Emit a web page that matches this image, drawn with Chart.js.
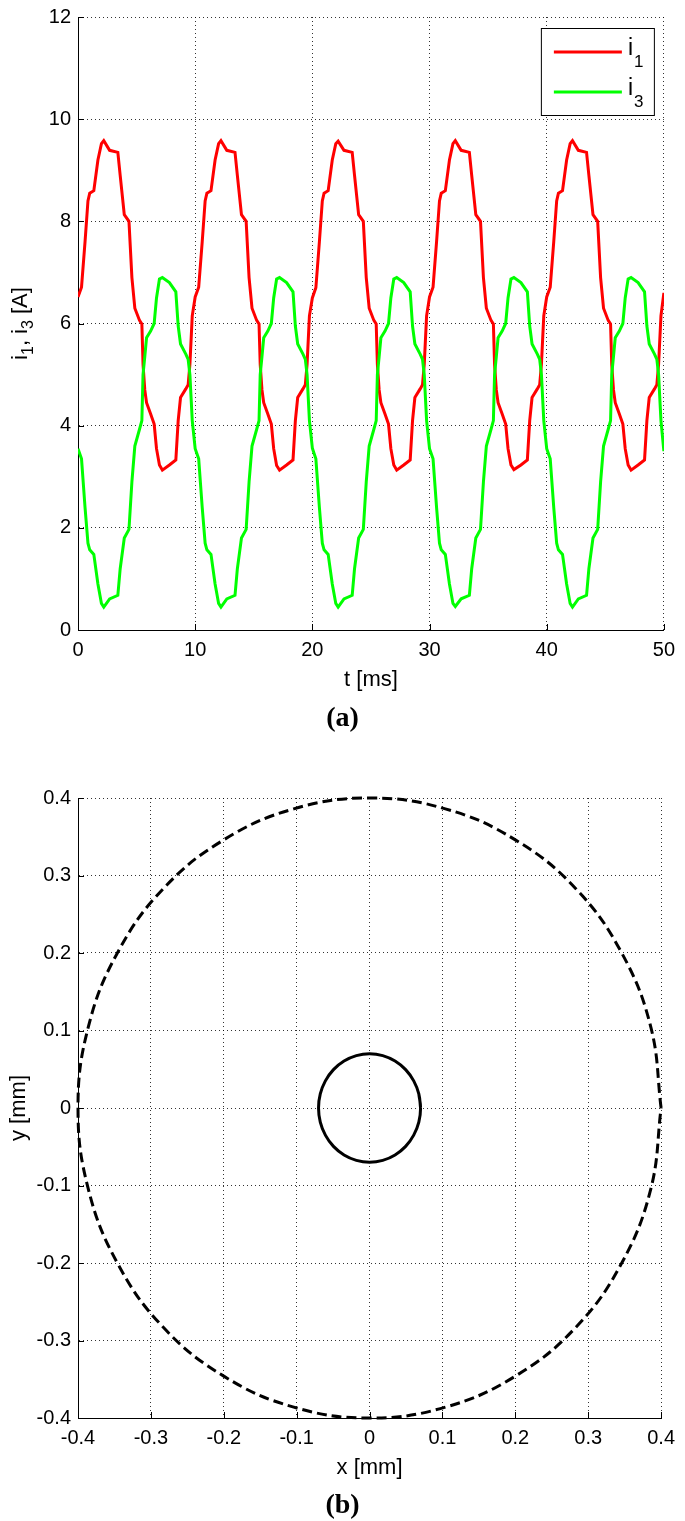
<!DOCTYPE html>
<html>
<head>
<meta charset="utf-8">
<script src="https://cdn.jsdelivr.net/npm/chart.js@4.4.1/dist/chart.umd.min.js"></script>
<style>
  body { margin: 0; background: #fff; width: 685px; height: 1521px; overflow: hidden; position: relative; }
  canvas { position: absolute; left: 0; }
  #currents { top: 0; }
  #orbit { top: 750px; }
</style>
</head>
<body>
<canvas id="currents" width="685" height="750"></canvas>
<canvas id="orbit" width="685" height="771"></canvas>
<script>
// (a) phase currents, t in ms
var tMs = [
  0, 0.3, 0.6, 0.85, 1.0, 1.35, 1.7, 2.0, 2.2, 2.7, 3.4, 3.6, 3.95, 4.35, 4.6, 4.85, 5.25, 5.45, 5.55, 5.7, 5.85, 6.2, 6.5, 6.7, 6.95, 7.2, 7.8, 8.35, 8.55, 8.75, 9.2, 9.4, 9.55, 9.75,
  10, 10.3, 10.6, 10.85, 11.0, 11.35, 11.7, 12.0, 12.2, 12.7, 13.4, 13.6, 13.95, 14.35, 14.6, 14.85, 15.25, 15.45, 15.55, 15.7, 15.85, 16.2, 16.5, 16.7, 16.95, 17.2, 17.8, 18.35, 18.55, 18.75, 19.2, 19.4, 19.55, 19.75,
  20, 20.3, 20.6, 20.85, 21.0, 21.35, 21.7, 22.0, 22.2, 22.7, 23.4, 23.6, 23.95, 24.35, 24.6, 24.85, 25.25, 25.45, 25.55, 25.7, 25.85, 26.2, 26.5, 26.7, 26.95, 27.2, 27.8, 28.35, 28.55, 28.75, 29.2, 29.4, 29.55, 29.75,
  30, 30.3, 30.6, 30.85, 31.0, 31.35, 31.7, 32.0, 32.2, 32.7, 33.4, 33.6, 33.95, 34.35, 34.6, 34.85, 35.25, 35.45, 35.55, 35.7, 35.85, 36.2, 36.5, 36.7, 36.95, 37.2, 37.8, 38.35, 38.55, 38.75, 39.2, 39.4, 39.55, 39.75,
  40, 40.3, 40.6, 40.85, 41.0, 41.35, 41.7, 42.0, 42.2, 42.7, 43.4, 43.6, 43.95, 44.35, 44.6, 44.85, 45.25, 45.45, 45.55, 45.7, 45.85, 46.2, 46.5, 46.7, 46.95, 47.2, 47.8, 48.35, 48.55, 48.75, 49.2, 49.4, 49.55, 49.75,
  50
];
var i1 = [
  6.52, 6.71, 7.6, 8.4, 8.55, 8.6, 9.2, 9.52, 9.58, 9.39, 9.35, 8.9, 8.13, 8.0, 6.9, 6.3, 6.06, 5.99, 5.2, 4.7, 4.45, 4.23, 4.03, 3.55, 3.23, 3.13, 3.23, 3.33, 4.1, 4.55, 4.72, 4.8, 5.2, 6.15,
  6.52, 6.71, 7.6, 8.4, 8.55, 8.6, 9.2, 9.52, 9.58, 9.39, 9.35, 8.9, 8.13, 8.0, 6.9, 6.3, 6.06, 5.99, 5.2, 4.7, 4.45, 4.23, 4.03, 3.55, 3.22, 3.13, 3.23, 3.33, 4.1, 4.55, 4.72, 4.8, 5.2, 6.15,
  6.5, 6.7, 7.6, 8.4, 8.55, 8.6, 9.2, 9.52, 9.57, 9.39, 9.35, 8.9, 8.13, 8.0, 6.9, 6.3, 6.06, 5.99, 5.2, 4.7, 4.45, 4.23, 4.03, 3.55, 3.23, 3.13, 3.23, 3.33, 4.1, 4.55, 4.72, 4.8, 5.2, 6.15,
  6.52, 6.71, 7.6, 8.4, 8.55, 8.6, 9.2, 9.52, 9.58, 9.39, 9.35, 8.9, 8.13, 8.0, 6.9, 6.3, 6.06, 5.99, 5.2, 4.7, 4.45, 4.23, 4.03, 3.55, 3.23, 3.14, 3.23, 3.33, 4.1, 4.55, 4.72, 4.8, 5.2, 6.15,
  6.52, 6.71, 7.6, 8.4, 8.55, 8.6, 9.2, 9.52, 9.58, 9.39, 9.35, 8.9, 8.13, 8.0, 6.9, 6.3, 6.06, 5.99, 5.2, 4.7, 4.45, 4.23, 4.03, 3.55, 3.23, 3.13, 3.23, 3.33, 4.1, 4.55, 4.72, 4.8, 5.2, 6.15,
  6.6
];
var i3 = [
  3.55, 3.35, 2.4, 1.7, 1.57, 1.48, 0.9, 0.52, 0.45, 0.61, 0.68, 1.2, 1.8, 1.97, 2.9, 3.6, 3.93, 4.1, 5.0, 5.35, 5.72, 5.85, 6.0, 6.5, 6.87, 6.9, 6.8, 6.62, 5.95, 5.6, 5.4, 5.3, 5.0, 4.1,
  3.55, 3.35, 2.4, 1.7, 1.57, 1.48, 0.9, 0.52, 0.45, 0.61, 0.68, 1.2, 1.8, 1.97, 2.9, 3.6, 3.93, 4.1, 5.0, 5.35, 5.72, 5.85, 6.0, 6.5, 6.87, 6.9, 6.8, 6.62, 5.95, 5.6, 5.4, 5.3, 5.0, 4.1,
  3.56, 3.35, 2.4, 1.7, 1.57, 1.48, 0.9, 0.52, 0.45, 0.61, 0.68, 1.2, 1.8, 1.97, 2.9, 3.6, 3.93, 4.1, 5.0, 5.35, 5.72, 5.85, 6.0, 6.5, 6.87, 6.9, 6.8, 6.62, 5.95, 5.6, 5.4, 5.3, 5.0, 4.1,
  3.55, 3.35, 2.4, 1.7, 1.57, 1.48, 0.9, 0.52, 0.46, 0.61, 0.68, 1.2, 1.8, 1.97, 2.9, 3.6, 3.93, 4.1, 5.0, 5.35, 5.72, 5.85, 6.0, 6.5, 6.87, 6.9, 6.8, 6.62, 5.95, 5.6, 5.4, 5.3, 5.0, 4.1,
  3.55, 3.35, 2.4, 1.7, 1.57, 1.48, 0.9, 0.52, 0.45, 0.61, 0.68, 1.2, 1.8, 1.97, 2.9, 3.6, 3.93, 4.1, 5.0, 5.35, 5.72, 5.85, 6.0, 6.5, 6.87, 6.9, 6.8, 6.62, 5.95, 5.6, 5.4, 5.3, 5.0, 4.1,
  3.5
];
var currentNames = ['i\u2081', 'i\u2083'];
var currentSubs = ['1', '3'];
// y label of (a) as pieces: [text, isSubscript]
var currentAxisLabel = [['i', false], ['1', true], [', i', false], ['3', true], [' [A]', false]];

// (b) rotor orbit, mm
var outerX = [0.4, 0.386, 0.346, 0.283, 0.2, 0.104, 0, -0.104, -0.2, -0.283, -0.346, -0.386, -0.4, -0.386, -0.346, -0.283, -0.2, -0.104, 0, 0.104, 0.2, 0.283, 0.346, 0.386, 0.4];
var outerY = [0, 0.104, 0.2, 0.283, 0.346, 0.386, 0.4, 0.386, 0.346, 0.283, 0.2, 0.104, 0, -0.104, -0.2, -0.283, -0.346, -0.386, -0.4, -0.386, -0.346, -0.283, -0.2, -0.104, 0];
var innerX = [0.07, 0.0676, 0.0606, 0.0495, 0.035, 0.0181, 0, -0.0181, -0.035, -0.0495, -0.0606, -0.0676, -0.07, -0.0676, -0.0606, -0.0495, -0.035, -0.0181, 0, 0.0181, 0.035, 0.0495, 0.0606, 0.0676, 0.07, 0.0676];
var innerY = [0, 0.0181, 0.035, 0.0495, 0.0606, 0.0676, 0.07, 0.0676, 0.0606, 0.0495, 0.035, 0.0181, 0, -0.0181, -0.035, -0.0495, -0.0606, -0.0676, -0.07, -0.0676, -0.0606, -0.0495, -0.035, -0.0181, 0, 0.0181];

var sansFont = 'Arial, "Liberation Sans", Helvetica, sans-serif';
var serifFont = '"Times New Roman", "Liberation Serif", serif';
Chart.defaults.font.family = sansFont;
Chart.defaults.font.size = 20;
Chart.defaults.color = '#000';

function toPoints(xs, ys) {
  return xs.map(function (x, k) { return { x: x, y: ys[k] }; });
}

// MATLAB style ticks pointing into the plot
var innerTicks = {
  id: 'innerTicks',
  afterDraw: function (chart) {
    var ctx = chart.ctx, a = chart.chartArea, sx = chart.scales.x, sy = chart.scales.y;
    ctx.save();
    ctx.strokeStyle = '#000';
    ctx.lineWidth = 1;
    ctx.beginPath();
    sx.ticks.forEach(function (tk) {
      var px = Math.round(sx.getPixelForValue(tk.value)) + 0.5;
      ctx.moveTo(px, a.bottom);
      ctx.lineTo(px, a.bottom - 6);
    });
    sy.ticks.forEach(function (tk) {
      var py = Math.round(sy.getPixelForValue(tk.value)) + 0.5;
      ctx.moveTo(a.left, py);
      ctx.lineTo(a.left + 6, py);
    });
    ctx.stroke();
    ctx.restore();
  }
};

// boxed legend in the top right corner
var boxLegend = {
  id: 'boxLegend',
  afterDraw: function (chart) {
    var ctx = chart.ctx, a = chart.chartArea;
    var w = 113, h = 87;
    var x0 = a.right - 10 - w, y0 = a.top + 11;
    ctx.save();
    ctx.fillStyle = '#fff';
    ctx.fillRect(x0, y0, w, h);
    ctx.strokeStyle = '#000';
    ctx.lineWidth = 1;
    ctx.strokeRect(x0 + 0.5, y0 + 0.5, w, h);
    chart.data.datasets.forEach(function (ds, k) {
      var y = y0 + 24 + k * 40;
      ctx.strokeStyle = ds.borderColor;
      ctx.lineWidth = 3;
      ctx.beginPath();
      ctx.moveTo(x0 + 13, y);
      ctx.lineTo(x0 + 81, y);
      ctx.stroke();
      ctx.fillStyle = '#000';
      ctx.textBaseline = 'alphabetic';
      ctx.font = '23px ' + sansFont;
      ctx.fillText('i', x0 + 87, y + 3);
      ctx.font = '17px ' + sansFont;
      ctx.fillText(currentSubs[k], x0 + 93, y + 15);
    });
    ctx.restore();
  }
};

// rotated y label with real subscripts
var subAxisLabel = {
  id: 'subAxisLabel',
  afterDraw: function (chart, args, opts) {
    if (!opts.parts) return;
    var ctx = chart.ctx, a = chart.chartArea;
    var big = '22px ' + sansFont, small = '16px ' + sansFont;
    ctx.save();
    var total = 0;
    opts.parts.forEach(function (p) { ctx.font = p[1] ? small : big; total += ctx.measureText(p[0]).width; });
    ctx.translate(opts.x, (a.top + a.bottom) / 2);
    ctx.rotate(-Math.PI / 2);
    ctx.fillStyle = '#000';
    ctx.textBaseline = 'alphabetic';
    var pos = -total / 2;
    opts.parts.forEach(function (p) {
      ctx.font = p[1] ? small : big;
      ctx.fillText(p[0], pos, p[1] ? 6 : 0);
      pos += ctx.measureText(p[0]).width;
    });
    ctx.restore();
  }
};

// bold panel caption (a)/(b)
var caption = {
  id: 'caption',
  afterDraw: function (chart, args, opts) {
    var ctx = chart.ctx;
    ctx.save();
    ctx.font = 'bold 28px ' + serifFont;
    ctx.fillStyle = '#000';
    ctx.textAlign = 'center';
    ctx.textBaseline = 'middle';
    ctx.fillText(opts.text, chart.width / 2, opts.y);
    ctx.restore();
  }
};

function makeScales(xMin, xMax, xStep, xTitle, yMin, yMax, yStep, yTitle) {
  var grid = { color: 'rgba(0,0,0,0.8)', lineWidth: 1, drawTicks: false };
  var border = { display: true, color: '#000', width: 1, dash: [1, 3] };
  return {
    x: {
      type: 'linear', min: xMin, max: xMax,
      grid: grid, border: border,
      ticks: { stepSize: xStep, padding: 10, maxRotation: 0, autoSkip: false, font: { size: 20, lineHeight: 1 } },
      title: { display: true, text: xTitle, font: { size: 22 }, padding: { top: 0, bottom: 10 } },
      afterFit: function (s) { s.height = 73.2; }
    },
    y: {
      type: 'linear', min: yMin, max: yMax,
      grid: grid, border: border,
      ticks: { stepSize: yStep, padding: 7, autoSkip: false, font: { size: 20, lineHeight: 1 } },
      title: { display: !!yTitle, text: yTitle || '', font: { size: 22 }, padding: { top: 6, bottom: 0 } },
      afterFit: function (s) { s.width = 78; }
    }
  };
}

// (a) currents chart
var ctxA = document.getElementById('currents').getContext('2d');
var currentsChart = new Chart(ctxA, {
  type: 'line',
  data: {
    datasets: [{
      label: currentNames[0],
      data: toPoints(tMs, i1),
      borderColor: '#ff0000',
      borderWidth: 3,
      pointRadius: 0,
      tension: 0,
      order: 1
    }, {
      label: currentNames[1],
      data: toPoints(tMs, i3),
      borderColor: '#00ff00',
      borderWidth: 3,
      pointRadius: 0,
      tension: 0,
      order: 0
    }]
  },
  options: {
    responsive: false,
    animation: false,
    layout: { padding: { top: 10, right: 15, bottom: 46.8, left: 0 } },
    scales: makeScales(0, 50, 10, 't [ms]', 0, 12, 2, null),
    plugins: {
      legend: { display: false },
      tooltip: { enabled: false },
      subAxisLabel: { parts: currentAxisLabel, x: 27 },
      caption: { text: '(a)', y: 719 }
    }
  },
  plugins: [innerTicks, boxLegend, subAxisLabel, caption]
});

// (b) orbit chart
var ctxB = document.getElementById('orbit').getContext('2d');
var orbitChart = new Chart(ctxB, {
  type: 'line',
  data: {
    datasets: [{
      label: 'outer',
      data: toPoints(outerX, outerY),
      borderColor: '#000',
      borderWidth: 3,
      borderDash: [10, 5],
      pointRadius: 0,
      tension: 0.4,
      clip: false
    }, {
      label: 'inner',
      data: toPoints(innerX, innerY),
      borderColor: '#000',
      borderWidth: 3,
      pointRadius: 0,
      tension: 0.4,
      clip: false
    }]
  },
  options: {
    responsive: false,
    animation: false,
    layout: { padding: { top: 48, right: 15, bottom: 29.8, left: 0 } },
    scales: makeScales(-0.4, 0.4, 0.1, 'x [mm]', -0.4, 0.4, 0.1, 'y [mm]'),
    plugins: {
      legend: { display: false },
      tooltip: { enabled: false },
      subAxisLabel: {},
      caption: { text: '(b)', y: 756 }
    }
  },
  plugins: [innerTicks, subAxisLabel, caption]
});
</script>
</body>
</html>
